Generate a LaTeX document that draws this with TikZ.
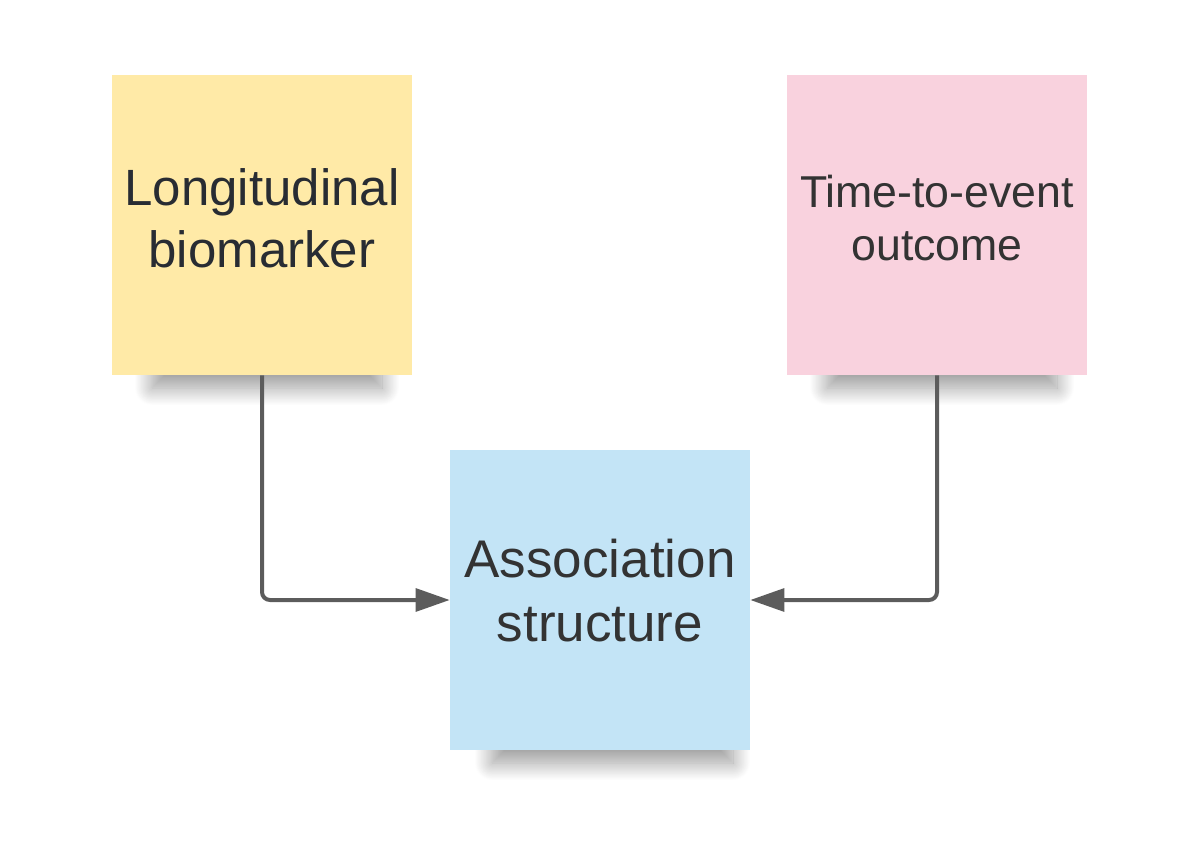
\documentclass[tikz,border=0pt]{standalone}
\usepackage{fontspec}
\setmainfont{Liberation Sans}
\usetikzlibrary{arrows.meta,shadows.blur}
\definecolor{stickyyellow}{HTML}{FFEAA7}
\definecolor{stickypink}{HTML}{F9D2DE}
\definecolor{stickyblue}{HTML}{C3E4F6}
\definecolor{textdark}{HTML}{282C33}
\definecolor{textgray}{HTML}{333333}
\definecolor{linegray}{HTML}{5C5C5C}
\begin{document}
\begin{tikzpicture}[x=0.75pt,y=-0.75pt,
  box/.style={rectangle, minimum width=225pt, minimum height=225pt, inner sep=0pt, text height=0pt},
  shade/.style={blur shadow={shadow xshift=0pt, shadow yshift=0pt, shadow blur radius=13pt, shadow blur steps=30, shadow opacity=40}},
  conn/.style={draw=linegray, line width=3pt, rounded corners=6pt, -{Triangle[length=25.5pt,width=17pt]}}]
\useasboundingbox (0,0) rectangle (1200,863);
% shadows
\path[shade] (152,340) rectangle (382,388);
\path[shade] (827,340) rectangle (1057,388);
\path[shade] (492,715) rectangle (733,763);
% boxes
\node[box, fill=stickyyellow, text=textdark, text depth=29.25pt,
  font=\fontsize{38.25pt}{46.5pt}\selectfont] (lb) at (262,225)
  {\begin{tabular}[t]{@{}c@{}}Longitudinal\\biomarker\end{tabular}};
\node[box, fill=stickypink, text=textgray, text depth=26.25pt,
  font=\fontsize{33.5pt}{39.75pt}\selectfont] (te) at (937,225)
  {\begin{tabular}[t]{@{}c@{}}Time-to-event\\outcome\end{tabular}};
\node[box, fill=stickyblue, text=textgray, text depth=33.75pt,
  font=\fontsize{39.75pt}{48pt}\selectfont] (as) at (600,600)
  {\begin{tabular}[t]{@{}c@{}}Association\\structure\end{tabular}};
% connectors
\draw[conn] (lb.south) |- (as.west);
\draw[conn] (te.south) |- (as.east);
\end{tikzpicture}
\end{document}
